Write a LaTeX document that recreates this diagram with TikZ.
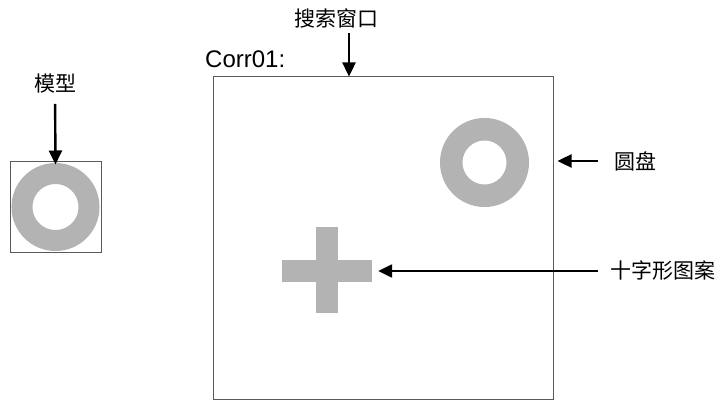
\documentclass[tikz,border=0pt]{standalone}
\usepackage{fontspec}
\setmainfont{Liberation Sans}
\newfontfamily\cjk{Noto Sans CJK SC}
\usetikzlibrary{arrows.meta}
\definecolor{ringgray}{RGB}{179,179,179}
\definecolor{boxline}{RGB}{90,90,90}
\begin{document}
\begin{tikzpicture}[x=1pt,y=-1pt,
  cjklabel/.style={font=\cjk\fontsize{21}{24}\selectfont,inner sep=0pt},
  latlabel/.style={font=\fontsize{24}{28}\selectfont,inner sep=0pt},
  frame/.style={draw=boxline,line width=1pt,inner sep=0pt},
  ring/.style={circle,draw=ringgray,inner sep=0pt},
  barshape/.style={fill=ringgray,inner sep=0pt},
  arr/.style={draw=black,line width=2.4pt,-{Triangle[length=14pt,width=13pt]}}]
\useasboundingbox (0,0) rectangle (722,401);
% frames
\node[frame,minimum width=91pt,minimum height=91pt] (small) at (55.5,206.5) {};
\node[frame,minimum width=340pt,minimum height=322.5pt] (win) at (383,238.25) {};
% rings
\node[ring,line width=21pt,minimum size=67pt] (ringA) at (55.5,207) {};
\node[ring,line width=22.5pt,minimum size=66.5pt] (ringB) at (484.5,162.5) {};
% cross
\node[barshape,minimum width=90pt,minimum height=22pt] (hbar) at (327,271) {};
\node[barshape,minimum width=22pt,minimum height=86pt] (vbar) at (327,270) {};
% labels
\node[cjklabel] (model) at (55,84) {模型};
\node[cjklabel] (search) at (336.5,18) {搜索窗口};
\node[latlabel,anchor=west] (corr) at (205,59) {Corr01:};
\node[cjklabel,anchor=west] (disc) at (614,161) {圆盘};
\node[cjklabel,anchor=west] (crossl) at (610,271) {十字形图案};
\coordinate (sa) at (349,33);
% arrows
\draw[arr,shorten <=10pt,shorten >=-4pt] (model.south) -- (small.north);
\draw[arr] (sa) -- (sa |- win.north);
\draw[arr,shorten <=16pt,shorten >=4pt] (disc.west) -- (win.east |- disc.west);
\draw[arr,shorten <=12pt,shorten >=6pt] (crossl.west) -- (hbar.east |- crossl.west);
\end{tikzpicture}
\end{document}
